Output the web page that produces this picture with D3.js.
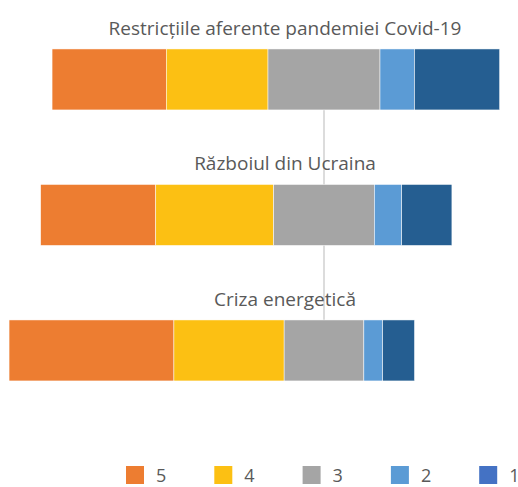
<!DOCTYPE html>
<html>
<head>
<meta charset="utf-8">
<script src="https://cdn.jsdelivr.net/npm/d3@7"></script>
<style>
  body { margin: 0; background: #fff; }
  text { font-family: "Open Sans", sans-serif; fill: #595959; }
</style>
</head>
<body>
<svg width="518" height="487"></svg>
<script>
// Categories (one bar each) and the share of answers per score
const categories = ['Restricțiile aferente pandemiei Covid-19', 'Războiul din Ucraina', 'Criza energetică']
const scores = ['5', '4', '3', '2', '1']
const score5 = [25.5, 25.7, 36.8]
const score4 = [22.7, 26.3, 24.6]
const score3 = [25.0, 22.5, 17.8]
const score2 = [7.7, 6.1, 4.2]
const score1 = [19.0, 11.2, 7.1]

const series = [score5, score4, score3, score2, score1]
const barColors = ['#ED7D31', '#FCC013', '#A5A5A5', '#5B9BD5', '#255E91']
const legendColors = ['#ED7D31', '#FCC013', '#A5A5A5', '#5B9BD5', '#4472C4']

const svg = d3.select('svg')

// Bars are centred on the middle of the neutral score (3)
const x = d3.scaleLinear().domain([-72, 42]).range([1.44, 512.16])
const y = d3.scaleBand().domain(categories).range([11.7, 418.2])
  .paddingInner(0.55).paddingOuter(0.275)

const rows = categories.map((c, i) => {
  let start = -(score5[i] + score4[i] + score3[i] / 2)
  return series.map((s, k) => {
    const seg = { cat: c, k, x0: start, x1: start + s[i] }
    start += s[i]
    return seg
  })
})

// Zero line behind the bars
svg.append('line')
  .attr('x1', x(0)).attr('x2', x(0))
  .attr('y1', y(categories[0]) + y.bandwidth())
  .attr('y2', y(categories[2]) + y.bandwidth())
  .attr('stroke', '#d0d0d0')
  .attr('stroke-width', 1.5)

svg.append('g')
  .selectAll('rect')
  .data(rows.flat())
  .join('rect')
  .attr('x', (d) => x(d.x0))
  .attr('width', (d) => x(d.x1) - x(d.x0))
  .attr('y', (d) => y(d.cat))
  .attr('height', y.bandwidth())
  .attr('fill', (d) => barColors[d.k])
  .attr('stroke', '#fff')
  .attr('stroke-width', 0.5)

// Category titles above each bar
svg.append('g')
  .selectAll('text')
  .data(categories)
  .join('text')
  .attr('x', 285)
  .attr('y', (d) => y(d) - 14)
  .attr('text-anchor', 'middle')
  .attr('font-size', 19)
  .text((d) => d)

// Legend
const legend = svg.append('g')
  .selectAll('g')
  .data(scores)
  .join('g')
  .attr('transform', (_, i) => `translate(${126 + i * 88.3}, 466)`)

legend.append('rect')
  .attr('width', 18)
  .attr('height', 18)
  .attr('fill', (_, i) => legendColors[i])

legend.append('text')
  .attr('x', 30)
  .attr('y', 16)
  .attr('font-size', 18)
  .text((d) => d)
</script>
</body>
</html>
